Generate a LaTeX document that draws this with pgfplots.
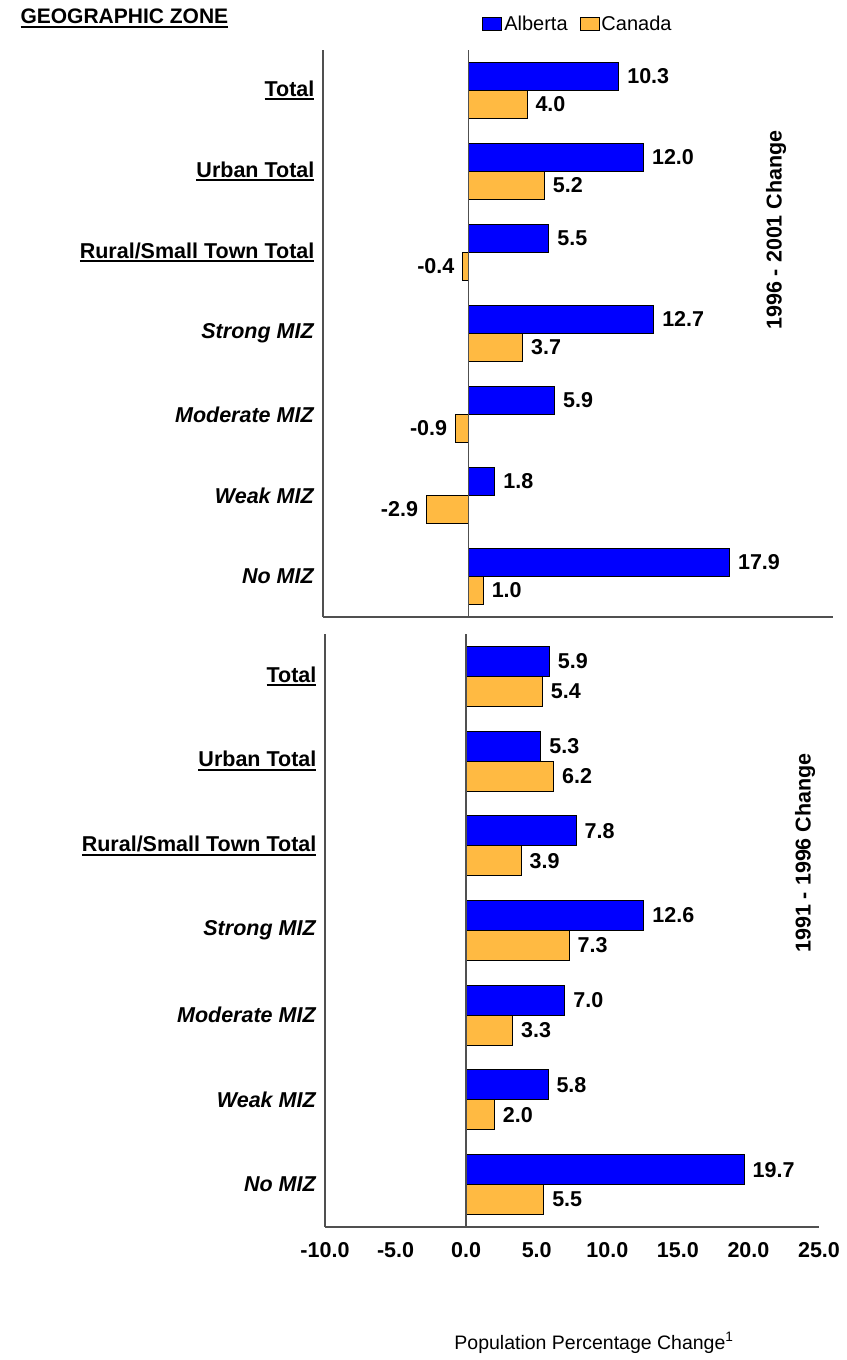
\documentclass[border=0pt]{standalone}
\usepackage{fontspec}
\setmainfont{Liberation Sans}
\usepackage{pgfplots}
\pgfplotsset{compat=1.18}
\definecolor{albblue}{RGB}{0,0,255}
\definecolor{canorange}{RGB}{255,186,66}
\definecolor{axgray}{RGB}{80,80,80}
\newcommand\ul[1]{\setbox0\hbox{#1}\rlap{\rule[-4pt]{\wd0}{2pt}}\box0}
\newcommand\lbl{\bfseries\fontsize{21.5}{25}\selectfont}
\pgfplotsset{
  panel/.style={
    scale only axis, anchor=south west,
    xbar, xmin=-10, xmax=25, ymin=-0.5, ymax=6.5,
    axis x line=bottom, axis y line=left,
    axis line style={-, draw=axgray, line width=1.3pt},
    ytick={0,...,6},
    yticklabels={\textit{No MIZ},\textit{Weak MIZ},\textit{Moderate MIZ},\textit{Strong MIZ},\ul{Rural/Small Town Total},\ul{Urban Total},\ul{Total}},
    yticklabel style={font=\lbl, xshift=-3pt},
    major tick style={draw=none},
    point meta=x,
    nodes near coords={\pgfmathprintnumber[fixed,zerofill,precision=1]{\pgfplotspointmeta}},
    every node near coord/.append style={font=\lbl, inner xsep=8pt},
    /pgf/number format/assume math mode=true,
    clip=false,
  },
}
\begin{document}
\begin{tikzpicture}
\useasboundingbox (0pt,0pt) rectangle (846pt,1360pt);
% top panel
\begin{axis}[panel, at={(323pt,743pt)}, width=510pt, height=567pt,
  bar width=28pt, xtick=\empty,
  legend style={at={(0.5,1.028)}, anchor=south, draw=none, inner sep=0pt,
    legend columns=2, font=\fontsize{20}{23}\selectfont,
    /tikz/every even column/.append style={column sep=10pt},
    nodes={inner sep=2pt}},
  legend image code/.code={\draw[#1, draw=black, line width=0.8pt] (0pt,-6.5pt) rectangle (19pt,6.5pt);},
]
\addplot[fill=albblue, draw=black, line width=1pt, bar shift=14pt] coordinates {(10.3,6) (12.0,5) (5.5,4) (12.7,3) (5.9,2) (1.8,1) (17.9,0)};
\addplot[fill=canorange, draw=black, line width=1pt, bar shift=-14pt] coordinates {(4.0,6) (5.2,5) (-0.4,4) (3.7,3) (-0.9,2) (-2.9,1) (1.0,0)};
\legend{Alberta,Canada}
\draw[axgray, line width=1.3pt] (axis cs:0,-0.5) -- (axis cs:0,6.5);
\end{axis}
% bottom panel
\begin{axis}[panel, at={(325pt,133pt)}, width=494pt, height=593pt,
  bar width=30pt, xtick={-10,-5,...,25},
  xticklabel style={font=\lbl, yshift=-10pt},
  xticklabel={\pgfmathprintnumber[fixed,zerofill,precision=1]{\tick}},
]
\addplot[fill=albblue, draw=black, line width=1pt, bar shift=15pt] coordinates {(5.9,6) (5.3,5) (7.8,4) (12.6,3) (7.0,2) (5.8,1) (19.7,0)};
\addplot[fill=canorange, draw=black, line width=1pt, bar shift=-15pt] coordinates {(5.4,6) (6.2,5) (3.9,4) (7.3,3) (3.3,2) (2.0,1) (5.5,0)};
\draw[axgray, line width=1.3pt] (axis cs:0,-0.5) -- (axis cs:0,6.5);
\end{axis}
\node[anchor=base west, font=\bfseries\fontsize{21}{24}\selectfont] at (17pt,1336pt) {\ul{GEOGRAPHIC ZONE}};
\node[rotate=90, font=\lbl] at (776pt,1130pt) {1996 - 2001 Change};
\node[rotate=90, font=\lbl] at (805pt,507pt) {1991 - 1996 Change};
\node[font=\fontsize{19.5}{22}\selectfont] at (594pt,17pt) {Population Percentage Change\textsuperscript{1}};
\end{tikzpicture}
\end{document}
